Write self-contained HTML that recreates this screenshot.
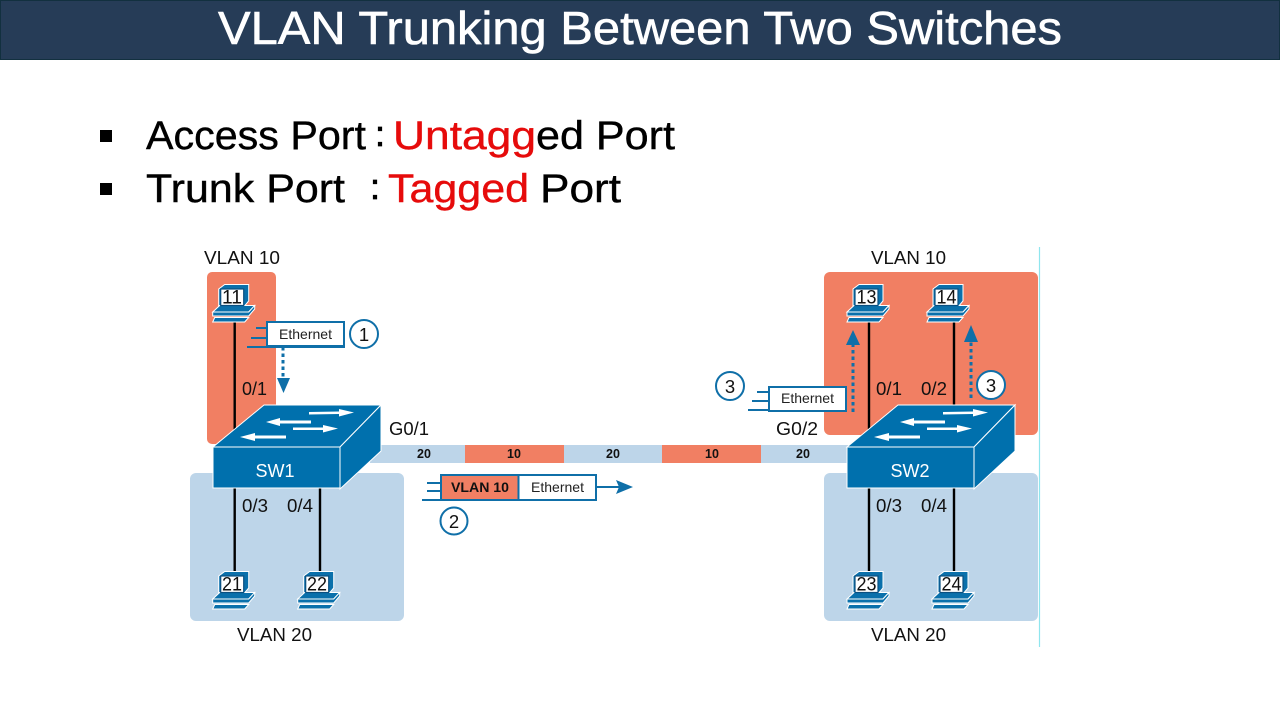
<!DOCTYPE html>
<html><head><meta charset="utf-8"><style>
html,body{margin:0;padding:0;background:#fff;width:1280px;height:720px;overflow:hidden}
svg{display:block}
text{font-family:"Liberation Sans",sans-serif}
</style></head><body>
<svg width="1280" height="720" viewBox="0 0 1280 720" xmlns="http://www.w3.org/2000/svg">
<defs>
<g id="pc">
<polygon points="6,5 12,0.5 36,0.5 36,17 31,23 6,23" fill="#0a70ab" stroke="#fff" stroke-width="1"/>
<polygon points="0,28 7,21.5 42,21.5 36,28" fill="#0a70ab" stroke="#fff" stroke-width="1"/>
<polygon points="0,28 36,28 42,21.5 42,25 36,32 0,32" fill="#0a70ab" stroke="#fff" stroke-width="1"/>
<polygon points="2,33.5 36,33.5 32,38 0,38" fill="#0a70ab" stroke="#fff" stroke-width="1"/>
<rect x="8" y="5" width="23" height="16.5" fill="#fff" stroke="#0a4f80" stroke-width="1.2"/>
</g>
<g id="sw">
<polygon points="0,42 51,0 168,0 127,42" fill="#0070ad" stroke="#fff" stroke-width="1"/>
<polygon points="127,42 168,0 168,46 127,84" fill="#0070ad" stroke="#fff" stroke-width="1"/>
<rect x="0" y="42" width="127" height="41" fill="#0070ad" stroke="#fff" stroke-width="1"/>
<g fill="#fff">
<polygon points="96,7 126,6.5 126,4 141,7.5 126,11.5 126,9 96,9.5"/>
<polygon points="98,15.5 67,15.5 67,13 53,17 67,21 67,18.5 98,18.5"/>
<polygon points="80,22.5 110,22.5 110,20 125,23.5 110,27.5 110,25 80,25"/>
<polygon points="73,30.5 42,30.5 42,28 27,32 42,36 42,33.5 73,33.5"/>
</g>
</g>
</defs>
<rect x="0.5" y="0.5" width="1279" height="59" fill="#263c57" stroke="#12303f"/>
<text x="218" y="44" font-size="46" fill="#fff" stroke="#fff" stroke-width="0.6" textLength="844" lengthAdjust="spacingAndGlyphs">VLAN Trunking Between Two Switches</text>

<rect x="100" y="130" width="12" height="12" fill="#000"/>
<rect x="100" y="183" width="12" height="12" fill="#000"/>
<g stroke-width="0.4">
<text x="146" y="149" font-size="40" fill="#000" stroke="#000" textLength="220" lengthAdjust="spacingAndGlyphs">Access Port</text>
<text x="375" y="146" font-size="36" fill="#000" stroke="#000" stroke-width="0.8">:</text>
<text x="393" y="149" font-size="40" fill="#e60b0b" stroke="#e60b0b" textLength="143" lengthAdjust="spacingAndGlyphs">Untagg</text>
<text x="536" y="149" font-size="40" fill="#000" stroke="#000" textLength="139" lengthAdjust="spacingAndGlyphs">ed Port</text>
<text x="146" y="202" font-size="40" fill="#000" stroke="#000" textLength="199" lengthAdjust="spacingAndGlyphs">Trunk Port</text>
<text x="370" y="199" font-size="36" fill="#000" stroke="#000" stroke-width="0.8">:</text>
<text x="388" y="202" font-size="40" fill="#e60b0b" stroke="#e60b0b" textLength="141" lengthAdjust="spacingAndGlyphs">Tagged</text>
<text x="540" y="202" font-size="40" fill="#000" stroke="#000" textLength="81" lengthAdjust="spacingAndGlyphs">Port</text>
</g>

<line x1="1039.5" y1="247" x2="1039.5" y2="647" stroke="#8fe6ee" stroke-width="1.2"/>
<rect x="207" y="272" width="69" height="172" rx="5" fill="#f17f63"/>
<rect x="824" y="272" width="214" height="163" rx="6" fill="#f17f63"/>
<rect x="190" y="473" width="214" height="148" rx="6" fill="#bdd5e9"/>
<rect x="824" y="473" width="214" height="148" rx="6" fill="#bdd5e9"/>

<rect x="370" y="445" width="480" height="18" fill="#bdd5e9"/>
<rect x="465" y="445" width="99" height="18" fill="#f17f63"/>
<rect x="662" y="445" width="99" height="18" fill="#f17f63"/>
<g font-size="12.5" font-weight="bold" fill="#111" text-anchor="middle">
<text x="424" y="458">20</text><text x="514" y="458">10</text><text x="613" y="458">20</text><text x="712" y="458">10</text><text x="803" y="458">20</text>
</g>

<g stroke="#000" stroke-width="2.4">
<line x1="234.7" y1="320" x2="234.7" y2="430"/>
<line x1="234.7" y1="487" x2="234.7" y2="572"/>
<line x1="320" y1="487" x2="320" y2="572"/>
<line x1="869" y1="320" x2="869" y2="430"/>
<line x1="954" y1="320" x2="954" y2="410"/>
<line x1="869" y1="487" x2="869" y2="572"/>
<line x1="954" y1="487" x2="954" y2="572"/>
</g>

<use href="#sw" x="213" y="405"/>
<use href="#sw" x="847" y="405"/>
<text x="275" y="477" font-size="18" fill="#fff" text-anchor="middle">SW1</text>
<text x="910" y="477" font-size="18" fill="#fff" text-anchor="middle">SW2</text>

<use href="#pc" x="212.7" y="284"/><use href="#pc" x="847" y="284"/><use href="#pc" x="927" y="284"/>
<use href="#pc" x="212.7" y="571"/><use href="#pc" x="297.7" y="571"/><use href="#pc" x="847" y="571"/><use href="#pc" x="932" y="571"/>
<g font-size="19" fill="#111">
<text x="222" y="303.5" textLength="20" lengthAdjust="spacingAndGlyphs">11</text><text x="856.5" y="303.5" textLength="20" lengthAdjust="spacingAndGlyphs">13</text><text x="936.5" y="303.5" textLength="20" lengthAdjust="spacingAndGlyphs">14</text>
<text x="222" y="590.5" textLength="20" lengthAdjust="spacingAndGlyphs">21</text><text x="307" y="590.5" textLength="20" lengthAdjust="spacingAndGlyphs">22</text><text x="856.5" y="590.5" textLength="20" lengthAdjust="spacingAndGlyphs">23</text><text x="941.5" y="590.5" textLength="20" lengthAdjust="spacingAndGlyphs">24</text>
</g>

<g font-size="18" fill="#111">
<text x="204" y="264" textLength="76" lengthAdjust="spacingAndGlyphs">VLAN 10</text>
<text x="871" y="264" textLength="75" lengthAdjust="spacingAndGlyphs">VLAN 10</text>
<text x="237" y="641" textLength="75" lengthAdjust="spacingAndGlyphs">VLAN 20</text>
<text x="871" y="641" textLength="75" lengthAdjust="spacingAndGlyphs">VLAN 20</text>
<text x="242" y="395" textLength="25" lengthAdjust="spacingAndGlyphs">0/1</text>
<text x="242" y="512" textLength="26" lengthAdjust="spacingAndGlyphs">0/3</text>
<text x="287" y="512" textLength="26" lengthAdjust="spacingAndGlyphs">0/4</text>
<text x="876" y="395" textLength="26" lengthAdjust="spacingAndGlyphs">0/1</text>
<text x="921" y="395" textLength="26" lengthAdjust="spacingAndGlyphs">0/2</text>
<text x="876" y="512" textLength="26" lengthAdjust="spacingAndGlyphs">0/3</text>
<text x="921" y="512" textLength="26" lengthAdjust="spacingAndGlyphs">0/4</text>
<text x="389" y="435" textLength="40" lengthAdjust="spacingAndGlyphs">G0/1</text>
<text x="776" y="435" textLength="42" lengthAdjust="spacingAndGlyphs">G0/2</text>
</g>

<g stroke="#0f6fa8" fill="none" stroke-width="2">
<line x1="256" y1="328" x2="266" y2="328"/><line x1="251" y1="338" x2="266" y2="338"/><line x1="247" y1="347" x2="345" y2="347"/>
<line x1="757" y1="392" x2="768" y2="392"/><line x1="752" y1="401" x2="768" y2="401"/><line x1="748" y1="410" x2="846" y2="410"/>
<line x1="427" y1="483" x2="440" y2="483"/><line x1="427" y1="491" x2="440" y2="491"/><line x1="422" y1="500" x2="597" y2="500"/>
<line x1="597" y1="487" x2="620" y2="487"/>
<circle cx="364" cy="334" r="14" fill="#fff"/>
<circle cx="730" cy="386" r="14" fill="#fff"/>
<circle cx="991" cy="385" r="14" fill="#fff"/>
<circle cx="454" cy="521" r="13.5" fill="#fff"/>
<g stroke-width="3" stroke-dasharray="3.5 3">
<line x1="283" y1="347" x2="283" y2="380"/>
<line x1="853" y1="412" x2="853" y2="345"/>
<line x1="971" y1="398" x2="971" y2="342"/>
</g>
</g>
<polygon points="277,378 290,378 283.5,393" fill="#0f6fa8"/>
<polygon points="846,345 860,345 853,330" fill="#0f6fa8"/>
<polygon points="964,342 978,342 971,325" fill="#0f6fa8"/>
<polygon points="616,480 633,487 616,494 619,487" fill="#0f6fa8"/>

<rect x="267" y="322" width="77" height="24" fill="#fff" stroke="#0f6fa8" stroke-width="2"/>
<rect x="769" y="387" width="77" height="24" fill="#fff" stroke="#0f6fa8" stroke-width="2"/>
<rect x="441" y="475" width="155" height="25" fill="#fff" stroke="#0f6fa8" stroke-width="2"/>
<rect x="442" y="476" width="76" height="23" fill="#f17f63"/>
<line x1="518.5" y1="475" x2="518.5" y2="500" stroke="#0f6fa8" stroke-width="2"/>
<g font-size="14" fill="#222">
<text x="279" y="339" textLength="53" lengthAdjust="spacingAndGlyphs">Ethernet</text>
<text x="781" y="403" textLength="53" lengthAdjust="spacingAndGlyphs">Ethernet</text>
<text x="531" y="492" textLength="53" lengthAdjust="spacingAndGlyphs">Ethernet</text>
</g>
<text x="451" y="492" font-size="14" font-weight="bold" fill="#111" textLength="58" lengthAdjust="spacingAndGlyphs">VLAN 10</text>
<g font-size="18.5" fill="#111" text-anchor="middle">
<text x="364" y="341">1</text><text x="730" y="393">3</text><text x="991" y="392">3</text><text x="454" y="528">2</text>
</g>
</svg>
</body></html>
